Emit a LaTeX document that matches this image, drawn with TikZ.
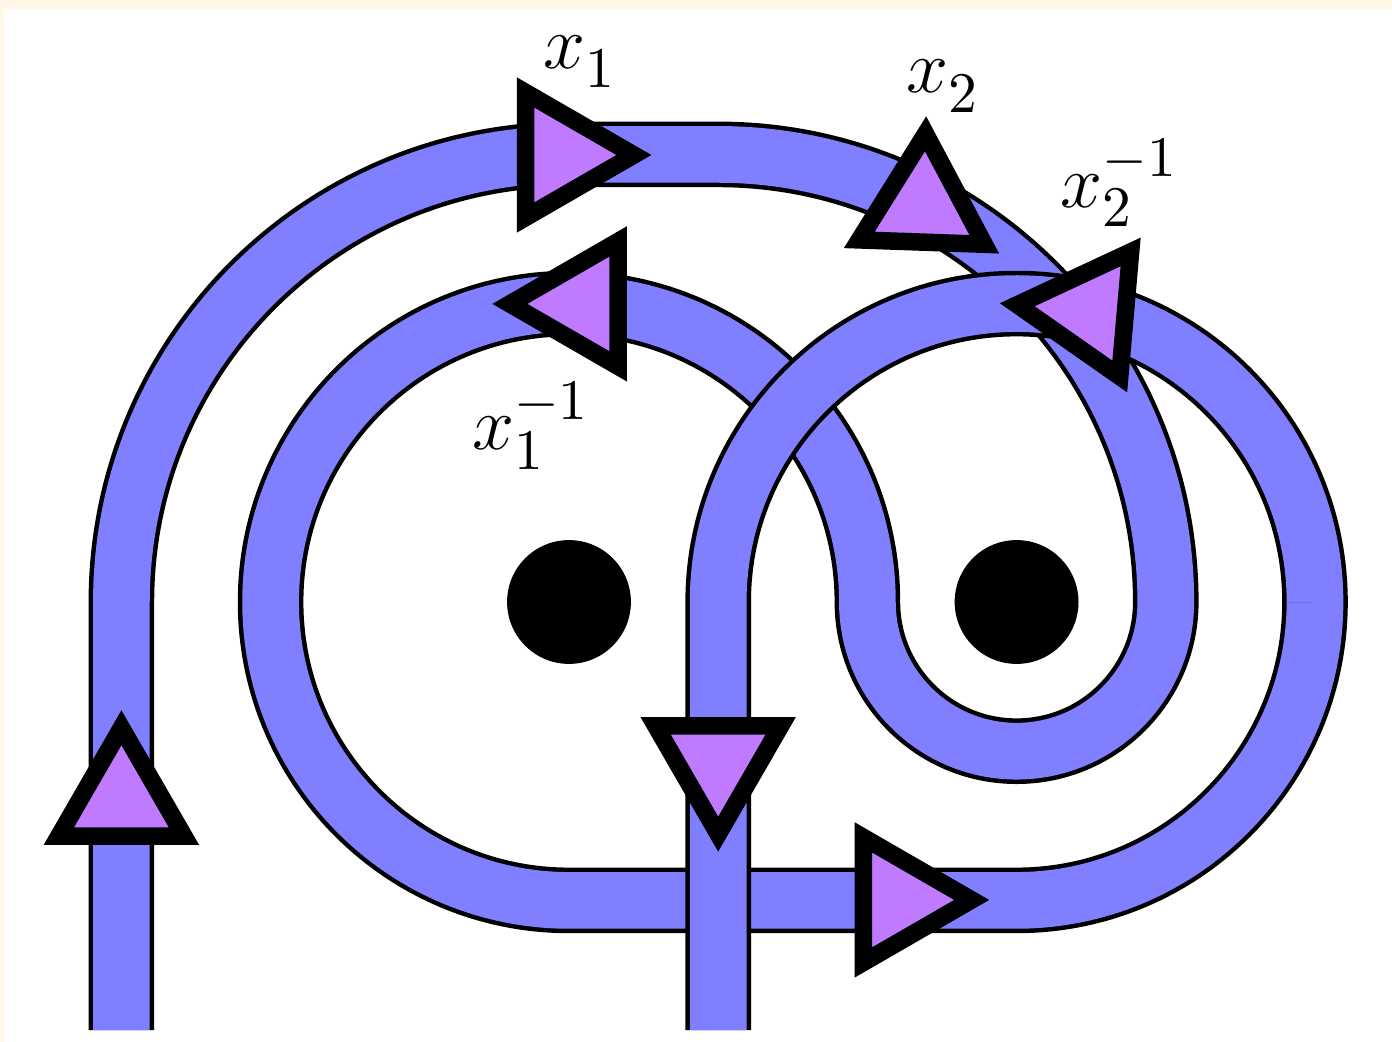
\documentclass[tikz,border=0pt]{standalone}
\usetikzlibrary{shapes.geometric}
\definecolor{tubeblue}{RGB}{127,127,255}
\definecolor{arrowpurple}{RGB}{191,122,255}
\definecolor{creambg}{RGB}{255,248,231}
\begin{document}
\begin{tikzpicture}[
  tube/.style={line width=0.03cm, draw=black, double=tubeblue, double distance=0.38cm},
  tri/.style={regular polygon, regular polygon sides=3, draw=black, fill=arrowpurple, line width=0.1173cm, line join=miter, inner sep=0pt, outer sep=0pt, minimum size=0.968cm},
  puncture/.style={circle, fill=black, inner sep=0pt, minimum size=0.83cm},
  lbl/.style={inner sep=0pt, anchor=base west, font=\fontsize{15.5}{18}\selectfont}
]
\useasboundingbox (-3.8137,-2.9491) rectangle (5.5161,4.0349);
\fill[creambg] (-3.8137,-2.9491) rectangle (5.5161,4.0349);
\fill[white] (-3.787,-2.9491) rectangle (5.5161,3.975);
% strand A
\draw[tube] (-3,-2.869) -- (-3,0) arc[start angle=180, end angle=90, radius=3]
  -- (1,3) arc[start angle=90, end angle=0, radius=3]
  arc[start angle=0, end angle=-180, radius=1]
  arc[start angle=0, end angle=270, radius=2] -- (3,-2)
  arc[start angle=-90, end angle=0, radius=2];
% strand B (on top)
\draw[tube] (5,0) arc[start angle=0, end angle=180, radius=2] -- (1,-2.869);
% punctures
\node[puncture] (p1) at (0,0) {};
\node[puncture] (p2) at (3,0) {};
% arrows
\node[tri] (a1) at (-3,-1.327) {};
\node[tri, rotate=-90] (a2) at (-0.049,2.996) {};
\node[tri, rotate=-2] (a3) at (2.373,2.654) {};
\node[tri, rotate=85] (a4) at (3.487,1.95) {};
\node[tri, rotate=90] (a5) at (0.088,1.998) {};
\node[tri, rotate=180] (a6) at (1,-1.072) {};
\node[tri, rotate=-90] (a7) at (2.215,-1.997) {};
% labels
\node[lbl] (l1) at (-0.175,3.579) {$x_1^{\vphantom{-1}}$};
\node[lbl] (l2) at (2.258,3.412) {$x_2^{\vphantom{-1}}$};
\node[lbl] (l3) at (3.29,2.647) {$x_2^{-1}$};
\node[lbl] (l4) at (-0.657,1.019) {$x_1^{-1}$};
\end{tikzpicture}
\end{document}
